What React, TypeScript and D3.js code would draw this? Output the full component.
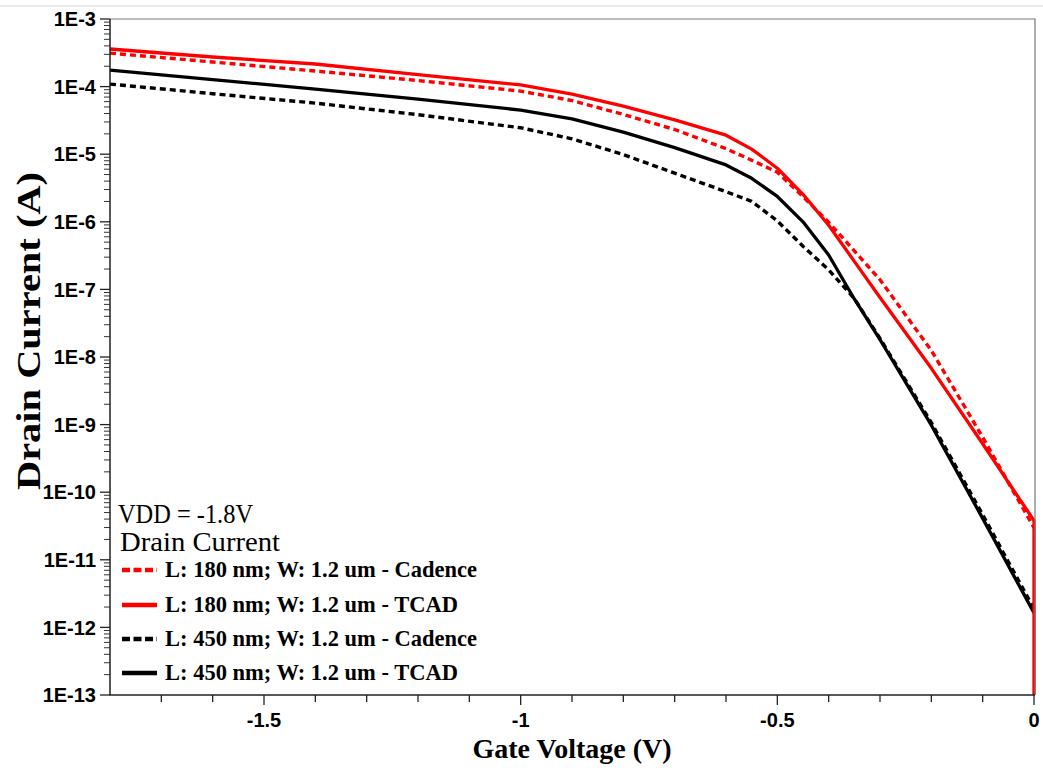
import React, { useEffect, useRef } from "react";
import * as d3 from "d3";

// gate voltage sweep (V)
const gateV = [-1.8, -1.6, -1.4, -1.2, -1.0, -0.9, -0.8, -0.7, -0.6, -0.55, -0.5, -0.45, -0.4, -0.35, -0.3, -0.2, -0.1, 0];

// drain current (A)
const cad180 = [3.13e-4, 2.31e-4, 1.7e-4, 1.23e-4, 8.58e-5, 6.21e-5, 3.88e-5, 2.32e-5, 1.21e-5, 8.15e-6, 5.41e-6, 2.36e-6, 9.84e-7, 3.72e-7, 1.39e-7, 1.25e-8, 6.5e-10, 2.98e-11];
const tcad180 = [3.6e-4, 2.74e-4, 2.16e-4, 1.5e-4, 1.06e-4, 7.74e-5, 5.14e-5, 3.22e-5, 1.91e-5, 1.19e-5, 6.2e-6, 2.55e-6, 8.87e-7, 2.6e-7, 7.6e-8, 6.8e-9, 5.2e-10, 3.8e-11];
const cad450 = [1.09e-4, 7.85e-5, 5.7e-5, 3.84e-5, 2.46e-5, 1.69e-5, 9.87e-6, 5.24e-6, 2.79e-6, 2.01e-6, 1.03e-6, 4.36e-7, 1.95e-7, 7.3e-8, 1.88e-8, 1.07e-9, 4.65e-11, 1.88e-12];
const tcad450 = [1.75e-4, 1.27e-4, 9.18e-5, 6.53e-5, 4.49e-5, 3.32e-5, 2.12e-5, 1.25e-5, 6.94e-6, 4.4e-6, 2.37e-6, 1.0e-6, 3.23e-7, 7.22e-8, 1.8e-8, 9.8e-10, 4.1e-11, 1.64e-12];
// TCAD 180 nm falls to ~0 A at Vg = 0 (clipped to the axis floor)
const tcad180Floor = 1e-13;

const legendLabels = [
  "L: 180 nm; W: 1.2 um - Cadence",
  "L: 180 nm; W: 1.2 um - TCAD",
  "L: 450 nm; W: 1.2 um - Cadence",
  "L: 450 nm; W: 1.2 um - TCAD",
];

const xTickLabels = [-1.5, -1, -0.5, 0];

const App = () => {
  const svgRef = useRef(null);

  useEffect(() => {
    const width = 1043;
    const height = 772;
    const plot = { left: 110, right: 1034, top: 19, bottom: 695 };

    const x = d3.scaleLinear().domain([-1.8, 0]).range([plot.left, plot.right]);
    const y = d3.scaleLog().domain([1e-13, 1e-3]).range([plot.bottom, plot.top]);

    const svg = d3.select(svgRef.current);
    svg.selectAll("*").remove();
    svg.attr("width", width).attr("height", height);

    svg.append("rect").attr("width", width).attr("height", height).attr("fill", "#fff");
    // faint page rule at top
    svg.append("line").attr("x1", 0).attr("x2", width).attr("y1", 6).attr("y2", 6)
      .attr("stroke", "#e4e4e4").attr("stroke-width", 1.5);

    // series
    const series = [
      { vals: cad450, color: "#000", dash: "6,4" },
      { vals: tcad450, color: "#000", dash: null },
      { vals: cad180, color: "#ff0000", dash: "6,4" },
      { vals: tcad180, color: "#ff0000", dash: null, floor: tcad180Floor },
    ];

    const line = d3.line().x((d) => x(d[0])).y((d) => y(d[1]));

    series.forEach((s) => {
      const pts = gateV.map((v, i) => [v, s.vals[i]]);
      if (s.floor) pts.push([0, s.floor]);
      svg.append("path")
        .attr("d", line(pts))
        .attr("fill", "none")
        .attr("stroke", s.color)
        .attr("stroke-width", s.dash ? 3.4 : 3.3)
        .attr("stroke-dasharray", s.dash)
        .attr("stroke-linejoin", "round");
    });

    // frame
    svg.append("path")
      .attr("d", `M${plot.left},${plot.top}H${plot.right + 1}V${plot.bottom}`)
      .attr("fill", "none").attr("stroke", "#777").attr("stroke-width", 1.2);
    svg.append("path")
      .attr("d", `M${plot.left},${plot.top}V${plot.bottom}H${plot.right + 1}`)
      .attr("fill", "none").attr("stroke", "#222").attr("stroke-width", 1.5);

    // y ticks
    const majors = d3.range(-13, -2).map((e) => Math.pow(10, e));
    majors.forEach((m, i) => {
      svg.append("line").attr("x1", plot.left - 10).attr("x2", plot.left)
        .attr("y1", y(m)).attr("y2", y(m)).attr("stroke", "#222").attr("stroke-width", 1.3);
      svg.append("text")
        .attr("x", plot.left - 14).attr("y", y(m)).attr("dy", "0.36em")
        .attr("text-anchor", "end")
        .style("font-family", "Liberation Sans, Arial, sans-serif")
        .style("font-weight", "bold").style("font-size", "20px")
        .text(`1E${-13 + i}`);
      if (i < majors.length - 1) {
        for (let k = 2; k <= 9; k++) {
          const v = m * k;
          svg.append("line").attr("x1", plot.left - 6).attr("x2", plot.left)
            .attr("y1", y(v)).attr("y2", y(v)).attr("stroke", "#333").attr("stroke-width", 1);
        }
      }
    });

    // x ticks
    d3.range(-17, 1).forEach((k) => {
      const v = k / 10;
      const major = xTickLabels.some((t) => Math.abs(t - v) < 1e-9);
      svg.append("line").attr("x1", x(v)).attr("x2", x(v))
        .attr("y1", plot.bottom).attr("y2", plot.bottom + (major ? 10 : 7))
        .attr("stroke", "#222").attr("stroke-width", 1.3);
    });
    xTickLabels.forEach((t) => {
      svg.append("text")
        .attr("x", x(t)).attr("y", 727)
        .attr("text-anchor", "middle")
        .style("font-family", "Liberation Sans, Arial, sans-serif")
        .style("font-weight", "bold").style("font-size", "20px")
        .text(t === 0 ? "0" : String(t));
    });

    // axis titles
    svg.append("text")
      .attr("x", (plot.left + plot.right) / 2).attr("y", 758)
      .attr("text-anchor", "middle")
      .style("font-family", "Liberation Serif, Times New Roman, serif")
      .style("font-weight", "bold").style("font-size", "28px")
      .text("Gate Voltage (V)");
    svg.append("text")
      .attr("transform", `translate(40,${331}) rotate(-90)`)
      .attr("text-anchor", "middle")
      .attr("textLength", 318).attr("lengthAdjust", "spacingAndGlyphs")
      .style("font-family", "Liberation Serif, Times New Roman, serif")
      .style("font-weight", "bold").style("font-size", "34px")
      .text("Drain Current (A)");

    // legend
    const serif = "Liberation Serif, Times New Roman, serif";
    svg.append("text").attr("x", 118).attr("y", 523)
      .attr("textLength", 135).attr("lengthAdjust", "spacingAndGlyphs")
      .style("font-family", serif).style("font-size", "27px")
      .text("VDD = -1.8V");
    svg.append("text").attr("x", 120).attr("y", 551)
      .attr("textLength", 160).attr("lengthAdjust", "spacingAndGlyphs")
      .style("font-family", serif).style("font-size", "27px")
      .text("Drain Current");

    const legendStyle = [
      { color: "#ff0000", dash: "8,3.5" },
      { color: "#ff0000", dash: null },
      { color: "#000", dash: "8,3.5" },
      { color: "#000", dash: null },
    ];
    const rowBase = [577, 612, 646, 680];
    legendLabels.forEach((lab, i) => {
      svg.append("line")
        .attr("x1", 122).attr("x2", 157)
        .attr("y1", rowBase[i] - 7).attr("y2", rowBase[i] - 7)
        .attr("stroke", legendStyle[i].color).attr("stroke-width", 4.5)
        .attr("stroke-dasharray", legendStyle[i].dash);
      svg.append("text").attr("x", 165).attr("y", rowBase[i])
        .style("font-family", serif).style("font-weight", "bold").style("font-size", "22.5px")
        .text(lab);
    });
  }, []);

  return (
    <div style={{ position: "absolute", left: 0, top: 0 }}>
      <svg ref={svgRef}></svg>
    </div>
  );
};

export default App;
